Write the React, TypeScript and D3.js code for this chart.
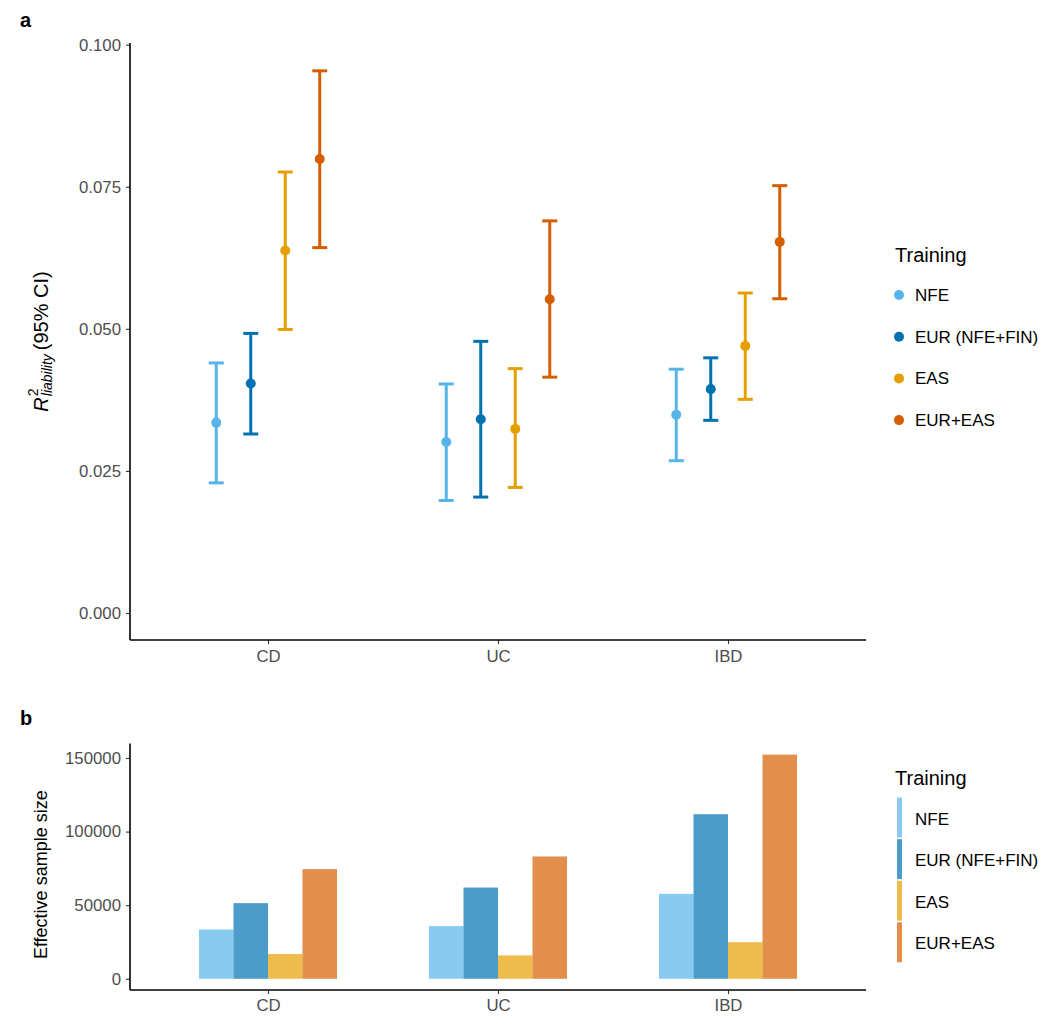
import React, { useRef, useEffect } from "react";
import * as d3 from "d3";

const diseases = ["CD", "UC", "IBD"];
const groups = ["NFE", "EUR (NFE+FIN)", "EAS", "EUR+EAS"];
const pointColors = ["#56B4E9", "#0072B2", "#E69F00", "#D55E00"];

// R2 liability, one row per training group, columns follow diseases
const r2Mid = [
  [0.0335, 0.0301, 0.0349],
  [0.0404, 0.0341, 0.0394],
  [0.0638, 0.0324, 0.047],
  [0.0799, 0.0552, 0.0653],
];
const r2Low = [
  [0.0229, 0.0198, 0.0268],
  [0.0315, 0.0204, 0.0339],
  [0.0499, 0.0221, 0.0376],
  [0.0643, 0.0415, 0.0553],
];
const r2High = [
  [0.044, 0.0403, 0.0429],
  [0.0492, 0.0478, 0.0449],
  [0.0776, 0.043, 0.0563],
  [0.0954, 0.069, 0.0752],
];
const r2Ticks = [0, 0.025, 0.05, 0.075, 0.1];

// effective sample size, same layout
const sampleSize = [
  [33500, 35800, 57700],
  [51400, 62000, 111800],
  [16800, 15900, 24900],
  [74500, 83100, 152300],
];
const nTicks = [0, 50000, 100000, 150000];

const App = () => {
  const ref = useRef<SVGSVGElement>(null);

  useEffect(() => {
    const svg = d3.select(ref.current);
    svg.selectAll("*").remove();
    const font = "Liberation Sans, Arial, sans-serif";
    svg.attr("font-family", font);

    const left = 130;
    const right = 866;

    const x = d3.scalePoint().domain(diseases).range([left, right]).padding(0.6);
    const dodge = (x.step() * 0.6) / groups.length;
    const offset = (j: number) => (j - (groups.length - 1) / 2) * dodge;

    const styleAxis = (g: any) => {
      g.select(".domain").remove();
      g.selectAll(".tick line").attr("stroke", "#333333").attr("stroke-width", 1.1);
      g.selectAll(".tick text").attr("fill", "#4D4D4D").attr("font-size", 16.8).attr("font-family", font);
    };

    // ---------- panel a ----------
    const yTop = 43;
    const yBot = 640;
    const y = d3.scaleLinear().domain([-0.00475, 0.1003]).range([yBot, yTop]);

    svg.append("g")
      .attr("transform", `translate(${left},0)`)
      .call(d3.axisLeft(y).tickValues(r2Ticks).tickFormat(d3.format(".3f")).tickSize(4).tickPadding(5))
      .call(styleAxis);
    svg.append("g")
      .attr("transform", `translate(0,${yBot})`)
      .call(d3.axisBottom(x).tickSize(4).tickPadding(6))
      .call(styleAxis);

    svg.append("line").attr("x1", left).attr("x2", left).attr("y1", yTop).attr("y2", yBot)
      .attr("stroke", "black").attr("stroke-width", 1.6);
    svg.append("line").attr("x1", left).attr("x2", right).attr("y1", yBot).attr("y2", yBot)
      .attr("stroke", "black").attr("stroke-width", 1.6);

    const marks = svg.append("g");
    groups.forEach((grp, j) => {
      diseases.forEach((dis, i) => {
        const cx = (x(dis) as number) + offset(j);
        const g = marks.append("g").attr("stroke", pointColors[j]).attr("stroke-width", 3);
        g.append("line").attr("x1", cx).attr("x2", cx).attr("y1", y(r2Low[j][i])).attr("y2", y(r2High[j][i]));
        g.append("line").attr("x1", cx - 7.5).attr("x2", cx + 7.5).attr("y1", y(r2Low[j][i])).attr("y2", y(r2Low[j][i]));
        g.append("line").attr("x1", cx - 7.5).attr("x2", cx + 7.5).attr("y1", y(r2High[j][i])).attr("y2", y(r2High[j][i]));
        marks.append("circle").attr("cx", cx).attr("cy", y(r2Mid[j][i])).attr("r", 5).attr("fill", pointColors[j]);
      });
    });

    // y title with R^2 subscript liability
    const tA = svg.append("text")
      .attr("transform", `translate(48,${(yTop + yBot) / 2}) rotate(-90)`)
      .attr("text-anchor", "middle")
      .attr("font-size", 20)
      .attr("fill", "black");
    tA.append("tspan").attr("font-style", "italic").text("R");
    tA.append("tspan").attr("font-size", 14).attr("dy", -10).attr("dx", 1).text("2");
    tA.append("tspan").attr("font-size", 14).attr("font-style", "italic").attr("dx", -7.8).attr("dy", 14).text("liability");
    tA.append("tspan").attr("dy", -4).attr("dx", 4).text("(95% CI)");

    svg.append("text").attr("x", 20).attr("y", 27).attr("font-size", 20).attr("font-weight", "bold").text("a");

    // legend a
    svg.append("text").attr("x", 895).attr("y", 262).attr("font-size", 20).text("Training");
    groups.forEach((grp, j) => {
      const cy = 295 + j * 41.7;
      svg.append("circle").attr("cx", 899).attr("cy", cy).attr("r", 5).attr("fill", pointColors[j]);
      svg.append("text").attr("x", 915).attr("y", cy + 6).attr("font-size", 17).text(grp);
    });

    // ---------- panel b ----------
    const bTop = 743.4;
    const bBot = 990;
    const yb = d3.scaleLinear().domain([-7615, 159915]).range([bBot, bTop]);

    svg.append("g")
      .attr("transform", `translate(${left},0)`)
      .call(d3.axisLeft(yb).tickValues(nTicks).tickFormat(d3.format("d")).tickSize(4).tickPadding(5))
      .call(styleAxis);
    svg.append("g")
      .attr("transform", `translate(0,${bBot})`)
      .call(d3.axisBottom(x).tickSize(4).tickPadding(5))
      .call(styleAxis);

    const bars = svg.append("g");
    groups.forEach((grp, j) => {
      diseases.forEach((dis, i) => {
        const cx = (x(dis) as number) + offset(j);
        bars.append("rect")
          .attr("x", cx - dodge / 2)
          .attr("width", dodge)
          .attr("y", yb(sampleSize[j][i]))
          .attr("height", yb(0) - yb(sampleSize[j][i]))
          .attr("fill", pointColors[j])
          .attr("fill-opacity", 0.7);
      });
    });

    svg.append("line").attr("x1", left).attr("x2", left).attr("y1", bTop).attr("y2", bBot)
      .attr("stroke", "black").attr("stroke-width", 1.6);
    svg.append("line").attr("x1", left).attr("x2", right).attr("y1", bBot).attr("y2", bBot)
      .attr("stroke", "black").attr("stroke-width", 1.6);

    svg.append("text")
      .attr("transform", `translate(47,${(bTop + bBot) / 2 + 8}) rotate(-90)`)
      .attr("text-anchor", "middle")
      .attr("font-size", 18)
      .text("Effective sample size");

    svg.append("text").attr("x", 20).attr("y", 725).attr("font-size", 20).attr("font-weight", "bold").text("b");

    // legend b
    svg.append("text").attr("x", 895).attr("y", 785).attr("font-size", 20).text("Training");
    groups.forEach((grp, j) => {
      const top = 797.5 + j * 41.6;
      svg.append("rect").attr("x", 897).attr("y", top).attr("width", 5).attr("height", 40)
        .attr("fill", pointColors[j]).attr("fill-opacity", 0.7);
      svg.append("text").attr("x", 915).attr("y", top + 27).attr("font-size", 17).text(grp);
    });
  }, []);

  return (
    <svg
      ref={ref}
      width={1050}
      height={1025}
      style={{ position: "absolute", left: 0, top: 0, background: "white" }}
    ></svg>
  );
};

export default App;
